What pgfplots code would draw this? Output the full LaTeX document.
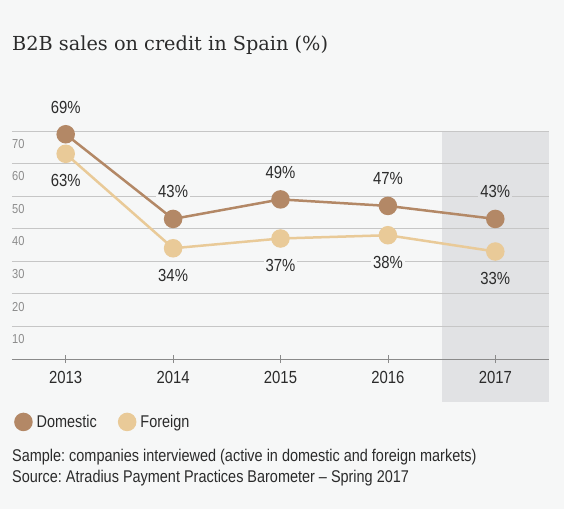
\documentclass[border=0pt]{standalone}
\usepackage{fontspec}
\setmainfont{Liberation Sans}[FakeStretch=0.85]
\newfontfamily\titlefont{DejaVu Serif}
\usepackage{pgfplots}
\pgfplotsset{compat=1.18}
\frenchspacing
\definecolor{bgc}{HTML}{F6F7F7}
\definecolor{shadec}{HTML}{E1E2E4}
\definecolor{gridc}{HTML}{C6C6C6}
\definecolor{axc}{HTML}{8A8A8A}
\definecolor{domc}{HTML}{B38866}
\definecolor{forc}{HTML}{E9CA98}
\definecolor{txtc}{HTML}{2B2B2B}
\definecolor{ytc}{HTML}{8C8C8C}
\pgfplotsset{
  vlab/.style={draw=none, mark=none, forget plot,
    nodes near coords={\pgfmathprintnumber{\pgfplotspointmeta}\%},
    every node near coord/.append style={anchor=center, yshift=#1, inner sep=2pt, text=txtc, font=\fontsize{17.5}{20}\selectfont}},
}
\begin{document}
\begin{tikzpicture}
\fill[bgc] (0pt,0pt) rectangle (564pt,509pt);
\useasboundingbox (0pt,0pt) rectangle (564pt,509pt);
% shaded 2017 column (axis spans x 12pt..549pt for 2012.5..2017.5, y 150pt..378pt for 0..70)
\fill[shadec] (441.6pt,107pt) rectangle (549pt,378pt);
\node[anchor=west, inner sep=0pt, text=txtc, font=\titlefont\fontsize{19.3}{22}\selectfont] at (12pt,464pt) {B2B sales on credit in Spain (\%)};
\begin{axis}[
  at={(12pt,150pt)}, anchor=south west,
  scale only axis, width=537pt, height=228pt,
  xmin=2012.5, xmax=2017.5, ymin=0, ymax=70,
  clip=false,
  axis x line*=bottom,
  axis y line*=left,
  y axis line style={draw=none},
  x axis line style={draw=axc, line width=0.8pt, -},
  ymajorgrids, grid style={gridc, line width=0.8pt},
  xtick={2013,2014,2015,2016,2017},
  xticklabels={2013,2014,2015,2016,2017},
  xtick style={draw=axc, line width=0.8pt},
  ytick={10,20,30,40,50,60,70},
  yticklabels={},
  ytick style={draw=none},
  tick align=center, major tick length=8pt,
  xticklabel style={font=\fontsize{17.5}{20}\selectfont, text=txtc, anchor=center, yshift=-14pt},
  /pgf/number format/assume math mode=true,
  legend style={at={(axis description cs:0,-0.276)}, anchor=west, xshift=2pt, draw=none, fill=none, inner sep=0pt, font=\fontsize{17}{20}\selectfont, text=txtc,
    /tikz/every odd column/.append style={column sep=2pt},
    /tikz/every even column/.append style={column sep=19pt}},
  legend cell align=left,
  legend columns=2,
]
\foreach \v in {10,20,30,40,50,60,70}{
  \edef\tmp{\noexpand\node[anchor=north west, inner sep=0pt, text=ytc, font=\noexpand\fontsize{13}{15}\noexpand\selectfont, yshift=-8pt] at (axis cs:2012.5,\v) {\v};}
  \tmp
}
\addplot[domc, line width=2.5pt, mark=*, mark size=8pt, mark options={fill=domc, draw=none},
  legend image code/.code={\fill[domc] (8pt,0pt) circle (8pt);}]
  coordinates {(2013,69) (2014,43) (2015,49) (2016,47) (2017,43)};
\addlegendentry{Domestic}
\addplot[forc, line width=2.5pt, mark=*, mark size=8pt, mark options={fill=forc, draw=none},
  legend image code/.code={\fill[forc] (8pt,0pt) circle (8pt);}]
  coordinates {(2013,63) (2014,34) (2015,37) (2016,38) (2017,33)};
\addlegendentry{Foreign}
\addplot[vlab=27pt, every node near coord/.append style={fill=bgc}] coordinates {(2013,69) (2014,43) (2015,49) (2016,47)};
\addplot[vlab=27pt, every node near coord/.append style={fill=shadec}] coordinates {(2017,43)};
\addplot[vlab=-27pt, every node near coord/.append style={fill=bgc}] coordinates {(2013,63) (2014,34) (2015,37) (2016,38)};
\addplot[vlab=-27pt, every node near coord/.append style={fill=shadec}] coordinates {(2017,33)};
\end{axis}
\node[anchor=west, inner sep=0pt, text=txtc, font=\fontsize{17}{20}\selectfont] at (12pt,52pt) {Sample: companies interviewed (active in domestic and foreign markets)};
\node[anchor=west, inner sep=0pt, text=txtc, font=\fontsize{17}{20}\selectfont] at (12pt,31pt) {Source: Atradius Payment Practices Barometer – Spring 2017};
\end{tikzpicture}
\end{document}
